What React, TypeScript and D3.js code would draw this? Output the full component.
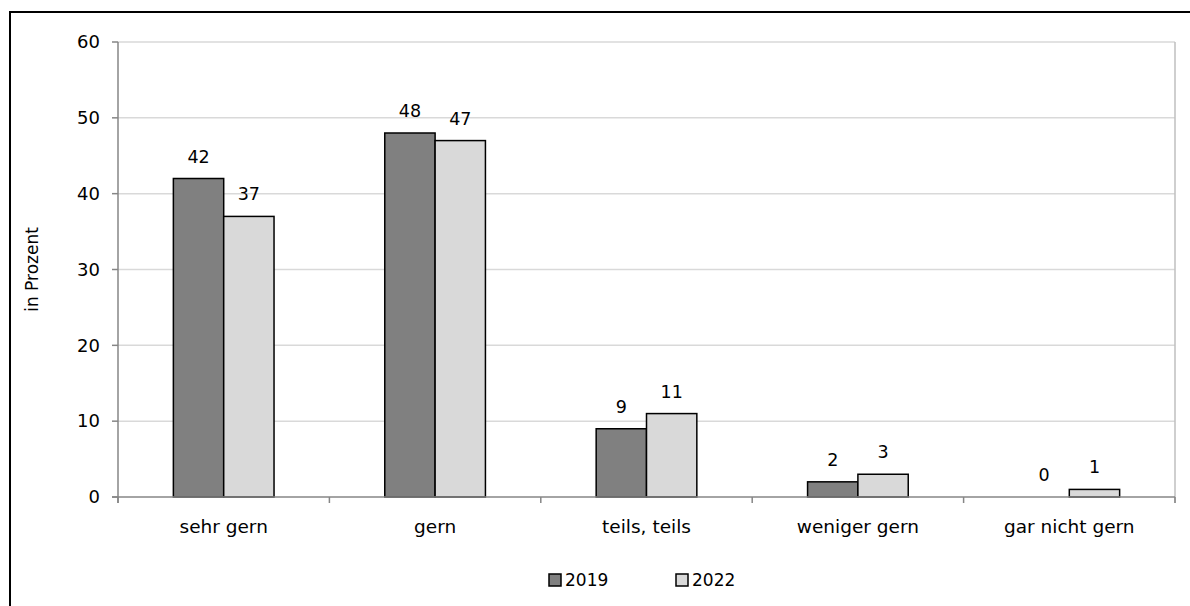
import React from "react";
import * as d3 from "d3";

const categories = ["sehr gern", "gern", "teils, teils", "weniger gern", "gar nicht gern"];
const seriesNames = ["2019", "2022"];
const values2019 = [42, 48, 9, 2, 0];
const values2022 = [37, 47, 11, 3, 1];
const yTicks = [0, 10, 20, 30, 40, 50, 60];
const colors = ["#808080", "#d9d9d9"];

const W = 1190;
const H = 606;
const margin = { left: 118, right: 15, top: 42, bottom: 109 };
const FONT = "'DejaVu Sans', sans-serif";

export default function App() {
  const x0 = d3
    .scaleBand<string>()
    .domain(categories)
    .range([margin.left, W - margin.right])
    .paddingInner(0)
    .paddingOuter(0);
  const x1 = d3
    .scaleBand<string>()
    .domain(seriesNames)
    .range([0, x0.bandwidth()])
    .paddingInner(0)
    .paddingOuter(1.1);
  const y = d3.scaleLinear().domain([0, 60]).range([H - margin.bottom, margin.top]);

  const series = [values2019, values2022];
  const bottom = y(0);
  const right = W - margin.right;
  const boundaries = [...categories.map((c) => x0(c) as number), right];

  return (
    <svg
      width={W}
      height={H}
      style={{ position: "absolute", left: 0, top: 0, background: "#fff" }}
      fontFamily={FONT}
    >
      {/* outer frame */}
      <rect x={10} y={12} width={W + 20} height={H + 20} fill="none" stroke="#000" strokeWidth={2} />

      {/* gridlines */}
      {yTicks.filter((t) => t > 0).map((t) => (
        <line key={t} x1={margin.left} x2={right} y1={y(t)} y2={y(t)} stroke="#d9d9d9" strokeWidth={1.5} />
      ))}
      {/* right edge of plot */}
      <line x1={right} x2={right} y1={y(60)} y2={bottom + 6} stroke="#bfbfbf" strokeWidth={1.5} />

      {/* y axis */}
      <line x1={margin.left} x2={margin.left} y1={y(60)} y2={bottom + 6} stroke="#868686" strokeWidth={1.5} />
      {yTicks.map((t) => (
        <g key={t}>
          <line x1={margin.left - 6} x2={margin.left} y1={y(t)} y2={y(t)} stroke="#868686" strokeWidth={1.5} />
          <text x={margin.left - 18} y={y(t)} dy="0.35em" textAnchor="end" fontSize={18} fill="#000">
            {t}
          </text>
        </g>
      ))}
      <text
        transform={`translate(38,${(y(60) + bottom) / 2}) rotate(-90)`}
        textAnchor="middle"
        fontSize={17}
        fill="#000"
      >
        in Prozent
      </text>

      {/* bars */}
      {categories.map((c, i) => (
        <g key={c}>
          {series.map((vals, s) => {
            const bx = (x0(c) as number) + (x1(seriesNames[s]) as number);
            const by = y(vals[i]);
            return (
              <g key={s}>
                {vals[i] > 0 && (
                  <rect
                    x={bx}
                    y={by}
                    width={x1.bandwidth()}
                    height={bottom - by}
                    fill={colors[s]}
                    stroke="#000"
                    strokeWidth={1.5}
                  />
                )}
                <text
                  x={bx + x1.bandwidth() / 2}
                  y={by - 16}
                  textAnchor="middle"
                  fontSize={17.5}
                  fill="#000"
                >
                  {vals[i]}
                </text>
              </g>
            );
          })}
        </g>
      ))}

      {/* x axis */}
      <line x1={margin.left - 6} x2={right} y1={bottom} y2={bottom} stroke="#868686" strokeWidth={1.5} />
      {boundaries.map((bx, i) => (
        <line key={i} x1={bx} x2={bx} y1={bottom} y2={bottom + 6} stroke="#868686" strokeWidth={1.5} />
      ))}
      {categories.map((c) => (
        <text
          key={c}
          x={(x0(c) as number) + x0.bandwidth() / 2}
          y={533}
          textAnchor="middle"
          fontSize={18.5}
          fill="#000"
        >
          {c}
        </text>
      ))}

      {/* legend */}
      {seriesNames.map((n, s) => {
        const lx = 549 + s * 127;
        return (
          <g key={n}>
            <rect x={lx} y={574} width={12} height={12} fill={colors[s]} stroke="#000" strokeWidth={1.5} />
            <text x={lx + 16} y={580} dy="0.35em" fontSize={17} fill="#000">
              {n}
            </text>
          </g>
        );
      })}
    </svg>
  );
}
